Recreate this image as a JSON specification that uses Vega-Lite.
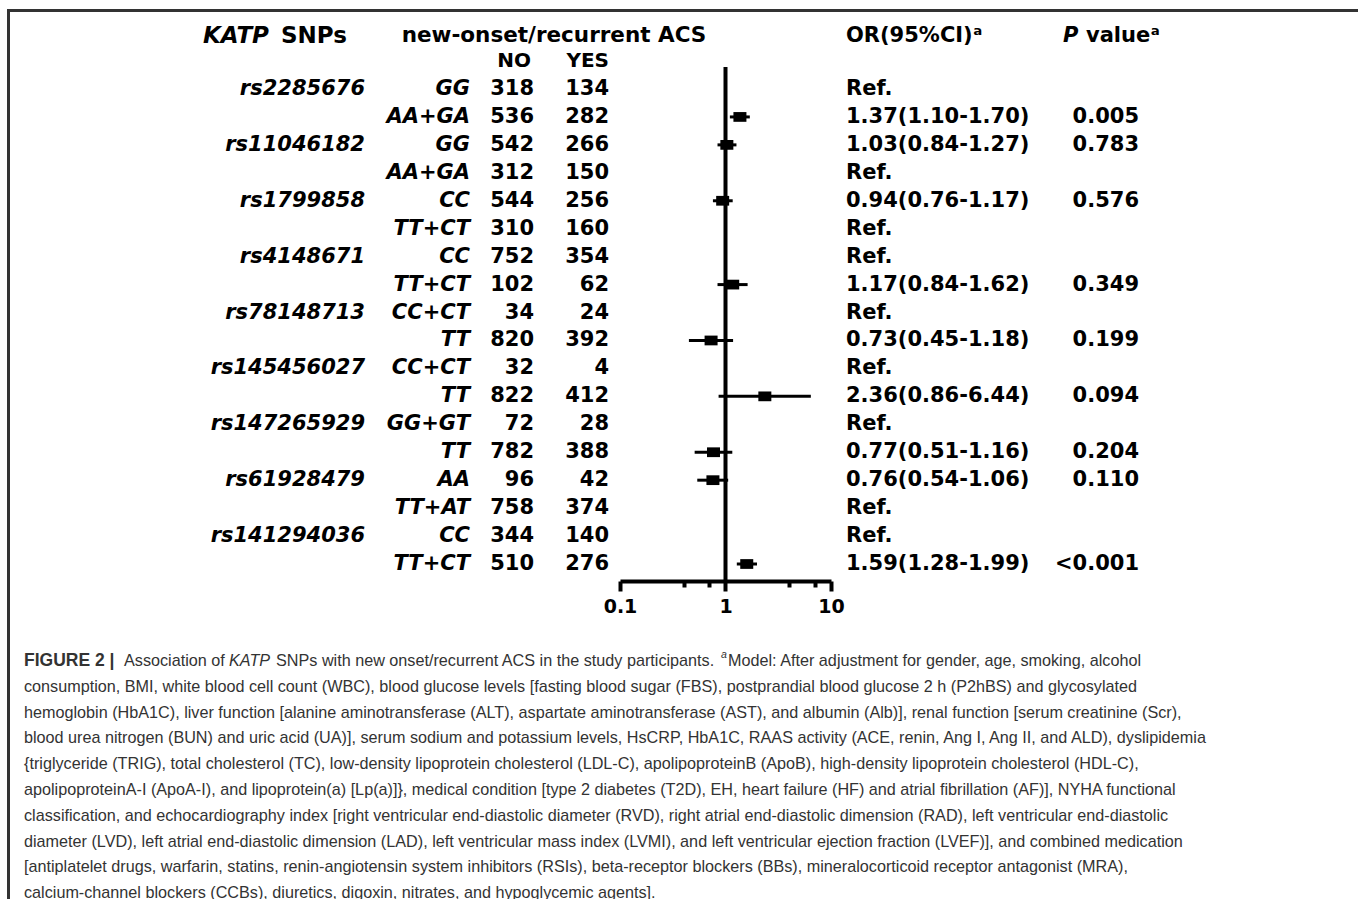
{
  "$schema": "https://vega.github.io/schema/vega-lite/v6.json",
  "padding": {"left": 7, "top": 9, "right": 0, "bottom": 0},
  "background": "white",
  "config": {"view": {"stroke": null}},
  "datasets": {
    "rows": [
      {"row": "r1", "snp": "rs2285676", "geno": "GG", "no": "318", "yes": "134", "ort": "Ref.", "p": ""},
      {"row": "r2", "snp": "", "geno": "AA+GA", "no": "536", "yes": "282", "ort": "1.37(1.10-1.70)", "p": "0.005", "or": 1.37, "lo": 1.10, "hi": 1.70},
      {"row": "r3", "snp": "rs11046182", "geno": "GG", "no": "542", "yes": "266", "ort": "1.03(0.84-1.27)", "p": "0.783", "or": 1.03, "lo": 0.84, "hi": 1.27},
      {"row": "r4", "snp": "", "geno": "AA+GA", "no": "312", "yes": "150", "ort": "Ref.", "p": ""},
      {"row": "r5", "snp": "rs1799858", "geno": "CC", "no": "544", "yes": "256", "ort": "0.94(0.76-1.17)", "p": "0.576", "or": 0.94, "lo": 0.76, "hi": 1.17},
      {"row": "r6", "snp": "", "geno": "TT+CT", "no": "310", "yes": "160", "ort": "Ref.", "p": ""},
      {"row": "r7", "snp": "rs4148671", "geno": "CC", "no": "752", "yes": "354", "ort": "Ref.", "p": ""},
      {"row": "r8", "snp": "", "geno": "TT+CT", "no": "102", "yes": "62", "ort": "1.17(0.84-1.62)", "p": "0.349", "or": 1.17, "lo": 0.84, "hi": 1.62},
      {"row": "r9", "snp": "rs78148713", "geno": "CC+CT", "no": "34", "yes": "24", "ort": "Ref.", "p": ""},
      {"row": "r10", "snp": "", "geno": "TT", "no": "820", "yes": "392", "ort": "0.73(0.45-1.18)", "p": "0.199", "or": 0.73, "lo": 0.45, "hi": 1.18},
      {"row": "r11", "snp": "rs145456027", "geno": "CC+CT", "no": "32", "yes": "4", "ort": "Ref.", "p": ""},
      {"row": "r12", "snp": "", "geno": "TT", "no": "822", "yes": "412", "ort": "2.36(0.86-6.44)", "p": "0.094", "or": 2.36, "lo": 0.86, "hi": 6.44},
      {"row": "r13", "snp": "rs147265929", "geno": "GG+GT", "no": "72", "yes": "28", "ort": "Ref.", "p": ""},
      {"row": "r14", "snp": "", "geno": "TT", "no": "782", "yes": "388", "ort": "0.77(0.51-1.16)", "p": "0.204", "or": 0.77, "lo": 0.51, "hi": 1.16},
      {"row": "r15", "snp": "rs61928479", "geno": "AA", "no": "96", "yes": "42", "ort": "0.76(0.54-1.06)", "p": "0.110", "or": 0.76, "lo": 0.54, "hi": 1.06},
      {"row": "r16", "snp": "", "geno": "TT+AT", "no": "758", "yes": "374", "ort": "Ref.", "p": ""},
      {"row": "r17", "snp": "rs141294036", "geno": "CC", "no": "344", "yes": "140", "ort": "Ref.", "p": ""},
      {"row": "r18", "snp": "", "geno": "TT+CT", "no": "510", "yes": "276", "ort": "1.59(1.28-1.99)", "p": "<0.001", "or": 1.59, "lo": 1.28, "hi": 1.99}
    ],
    "caption": [
      {"line": 1, "seg": "b", "text": "FIGURE 2 |"},
      {"line": 1, "seg": "n1", "text": "Association of"},
      {"line": 1, "seg": "i", "text": "KATP"},
      {"line": 1, "seg": "n2", "text": "SNPs with new onset/recurrent ACS in the study participants."},
      {"line": 1, "seg": "sup", "text": "a"},
      {"line": 1, "seg": "n3", "text": "Model: After adjustment for gender, age, smoking, alcohol"},
      {"line": 2, "seg": "n", "text": "consumption, BMI, white blood cell count (WBC), blood glucose levels [fasting blood sugar (FBS), postprandial blood glucose 2 h (P2hBS) and glycosylated"},
      {"line": 3, "seg": "n", "text": "hemoglobin (HbA1C), liver function [alanine aminotransferase (ALT), aspartate aminotransferase (AST), and albumin (Alb)], renal function [serum creatinine (Scr),"},
      {"line": 4, "seg": "n", "text": "blood urea nitrogen (BUN) and uric acid (UA)], serum sodium and potassium levels, HsCRP, HbA1C, RAAS activity (ACE, renin, Ang I, Ang II, and ALD), dyslipidemia"},
      {"line": 5, "seg": "n", "text": "{triglyceride (TRIG), total cholesterol (TC), low-density lipoprotein cholesterol (LDL-C), apolipoproteinB (ApoB), high-density lipoprotein cholesterol (HDL-C),"},
      {"line": 6, "seg": "n", "text": "apolipoproteinA-I (ApoA-I), and lipoprotein(a) [Lp(a)]}, medical condition [type 2 diabetes (T2D), EH, heart failure (HF) and atrial fibrillation (AF)], NYHA functional"},
      {"line": 7, "seg": "n", "text": "classification, and echocardiography index [right ventricular end-diastolic diameter (RVD), right atrial end-diastolic dimension (RAD), left ventricular end-diastolic"},
      {"line": 8, "seg": "n", "text": "diameter (LVD), left atrial end-diastolic dimension (LAD), left ventricular mass index (LVMI), and left ventricular ejection fraction (LVEF)], and combined medication"},
      {"line": 9, "seg": "n", "text": "[antiplatelet drugs, warfarin, statins, renin-angiotensin system inhibitors (RSIs), beta-receptor blockers (BBs), mineralocorticoid receptor antagonist (MRA),"},
      {"line": 10, "seg": "n", "text": "calcium-channel blockers (CCBs), diuretics, digoxin, nitrates, and hypoglycemic agents]."}
    ]
  },
  "spacing": 0,
  "hconcat": [
    {"width": 1, "height": 900, "data": {"values": []}, "mark": {"type": "text"}, "view": {"stroke": "#333333", "strokeWidth": 2}},
    {
      "spacing": 0,
      "vconcat": [
        {"width": 1346, "height": 1, "data": {"values": []}, "mark": {"type": "text"}, "view": {"stroke": "#333333", "strokeWidth": 2}},
        {
          "spacing": 0,
          "bounds": "flush",
          "hconcat": [
            {"width": 192, "height": 569, "data": {"values": []}, "mark": {"type": "text"}},
            {
              "width": 162, "height": 569,
              "layer": [
                {"data": {"name": "rows"},
                 "mark": {"type": "text", "align": "right", "baseline": "middle", "font": "DejaVu Sans", "fontSize": 21, "fontWeight": "bold", "fontStyle": "italic", "color": "black"},
                 "encoding": {
                   "x": {"datum": "R", "type": "nominal", "scale": {"type": "point", "domain": ["L", "R"], "padding": 0}, "axis": null},
                   "y": {"field": "row", "type": "nominal", "scale": {"type": "point", "domain": ["h1", "h2", "r1", "r2", "r3", "r4", "r5", "r6", "r7", "r8", "r9", "r10", "r11", "r12", "r13", "r14", "r15", "r16", "r17", "r18"], "padding": 0.682, "align": 0.554}, "axis": null},
                   "text": {"field": "snp"}}},
                {"data": {"values": [{}]},
                 "mark": {"type": "text", "text": "KATP", "align": "left", "baseline": "middle", "dy": 3, "font": "DejaVu Sans", "fontSize": 23, "fontWeight": "bold", "fontStyle": "italic", "color": "black"},
                 "encoding": {
                   "x": {"datum": "L", "type": "nominal", "axis": null},
                   "y": {"datum": "h1", "type": "nominal", "axis": null}}},
                {"data": {"values": [{}]},
                 "mark": {"type": "text", "text": "SNPs", "align": "left", "baseline": "middle", "dy": 3, "dx": 78, "font": "DejaVu Sans", "fontSize": 23, "fontWeight": "bold", "color": "black"},
                 "encoding": {
                   "x": {"datum": "L", "type": "nominal", "axis": null},
                   "y": {"datum": "h1", "type": "nominal", "axis": null}}}
              ]
            },
            {
              "width": 105, "height": 569,
              "data": {"name": "rows"},
              "mark": {"type": "text", "align": "right", "baseline": "middle", "font": "DejaVu Sans", "fontSize": 21, "fontWeight": "bold", "fontStyle": "italic", "color": "black"},
              "encoding": {
                "x": {"datum": "R", "type": "nominal", "scale": {"type": "point", "domain": ["L", "R"], "padding": 0}, "axis": null},
                "y": {"field": "row", "type": "nominal", "scale": {"type": "point", "domain": ["h1", "h2", "r1", "r2", "r3", "r4", "r5", "r6", "r7", "r8", "r9", "r10", "r11", "r12", "r13", "r14", "r15", "r16", "r17", "r18"], "padding": 0.682, "align": 0.554}, "axis": null},
                "text": {"field": "geno"}}
            },
            {
              "width": 64, "height": 569,
              "layer": [
                {"data": {"name": "rows"},
                 "mark": {"type": "text", "align": "right", "baseline": "middle", "font": "DejaVu Sans", "fontSize": 21, "fontWeight": "bold", "color": "black"},
                 "encoding": {
                   "x": {"datum": "R", "type": "nominal", "scale": {"type": "point", "domain": ["L", "R"], "padding": 0}, "axis": null},
                   "y": {"field": "row", "type": "nominal", "scale": {"type": "point", "domain": ["h1", "h2", "r1", "r2", "r3", "r4", "r5", "r6", "r7", "r8", "r9", "r10", "r11", "r12", "r13", "r14", "r15", "r16", "r17", "r18"], "padding": 0.682, "align": 0.554}, "axis": null},
                   "text": {"field": "no"}}},
                {"data": {"values": [{}]},
                 "mark": {"type": "text", "text": "NO", "align": "right", "baseline": "middle", "dx": -3, "font": "DejaVu Sans", "fontSize": 20, "fontWeight": "bold", "color": "black"},
                 "encoding": {
                   "x": {"datum": "R", "type": "nominal", "axis": null},
                   "y": {"datum": "h2", "type": "nominal", "axis": null}}}
              ]
            },
            {
              "width": 75, "height": 569,
              "layer": [
                {"data": {"name": "rows"},
                 "mark": {"type": "text", "align": "right", "baseline": "middle", "font": "DejaVu Sans", "fontSize": 21, "fontWeight": "bold", "color": "black"},
                 "encoding": {
                   "x": {"datum": "R", "type": "nominal", "scale": {"type": "point", "domain": ["L", "R"], "padding": 0}, "axis": null},
                   "y": {"field": "row", "type": "nominal", "scale": {"type": "point", "domain": ["h1", "h2", "r1", "r2", "r3", "r4", "r5", "r6", "r7", "r8", "r9", "r10", "r11", "r12", "r13", "r14", "r15", "r16", "r17", "r18"], "padding": 0.682, "align": 0.554}, "axis": null},
                   "text": {"field": "yes"}}},
                {"data": {"values": [{}]},
                 "mark": {"type": "text", "text": "YES", "align": "right", "baseline": "middle", "font": "DejaVu Sans", "fontSize": 20, "fontWeight": "bold", "color": "black"},
                 "encoding": {
                   "x": {"datum": "R", "type": "nominal", "axis": null},
                   "y": {"datum": "h2", "type": "nominal", "axis": null}}},
                {"data": {"values": [{}]},
                 "mark": {"type": "text", "text": "new-onset/recurrent ACS", "align": "center", "baseline": "middle", "dx": 20, "dy": 3, "font": "DejaVu Sans", "fontSize": 21.5, "fontWeight": "bold", "color": "black"},
                 "encoding": {
                   "x": {"datum": "L", "type": "nominal", "axis": null},
                   "y": {"datum": "h1", "type": "nominal", "axis": null}}}
              ]
            },
            {"width": 11, "height": 569, "data": {"values": []}, "mark": {"type": "text"}},
            {
              "width": 211, "height": 569,
              "layer": [
                {"data": {"values": [{}]},
                 "mark": {"type": "rule", "color": "black", "strokeWidth": 4, "yOffset": 6},
                 "encoding": {
                   "x": {"datum": 1, "type": "quantitative", "scale": {"type": "log", "domain": [0.1, 10], "nice": false},
                         "axis": {"title": null, "values": [0.1, 0.4, 0.7, 1, 4, 7, 10], "grid": false, "domain": true, "domainColor": "black", "domainWidth": 4, "ticks": true, "tickColor": "black", "tickWidth": 4,
                                  "tickSize": {"condition": {"test": "datum.value == 0.1 || datum.value == 1 || datum.value == 10", "value": 10}, "value": 6},
                                  "labelExpr": "datum.value == 0.1 ? '0.1' : datum.value == 1 ? '1' : datum.value == 10 ? '10' : ''",
                                  "labelFont": "DejaVu Sans", "labelFontWeight": "bold", "labelFontSize": 19, "labelColor": "black", "labelPadding": 6, "labelFlush": false, "labelOverlap": false, "labelBound": false}},
                   "y": {"datum": "h2", "type": "nominal", "scale": {"type": "point", "domain": ["h1", "h2", "r1", "r2", "r3", "r4", "r5", "r6", "r7", "r8", "r9", "r10", "r11", "r12", "r13", "r14", "r15", "r16", "r17", "r18"], "padding": 0.682, "align": 0.554}, "axis": null},
                   "y2": {"value": "height"}}},
                {"data": {"name": "rows"},
                 "transform": [{"filter": "isValid(datum.or)"}],
                 "mark": {"type": "rule", "color": "black", "strokeWidth": 3},
                 "encoding": {
                   "x": {"field": "lo", "type": "quantitative"},
                   "x2": {"field": "hi"},
                   "y": {"field": "row", "type": "nominal", "axis": null}}},
                {"data": {"name": "rows"},
                 "transform": [{"filter": "isValid(datum.or)"}],
                 "mark": {"type": "point", "shape": "M-1,-0.75L1,-0.75L1,0.75L-1,0.75Z", "size": 169, "filled": true, "color": "black", "opacity": 1},
                 "encoding": {
                   "x": {"field": "or", "type": "quantitative"},
                   "y": {"field": "row", "type": "nominal", "axis": null}}}
              ]
            },
            {"width": 15, "height": 569, "data": {"values": []}, "mark": {"type": "text"}},
            {
              "width": 293, "height": 569,
              "layer": [
                {"data": {"name": "rows"},
                 "mark": {"type": "text", "align": "left", "baseline": "middle", "font": "DejaVu Sans", "fontSize": 21, "fontWeight": "bold", "color": "black"},
                 "encoding": {
                   "x": {"datum": "L", "type": "nominal", "scale": {"type": "point", "domain": ["L", "R"], "padding": 0}, "axis": null},
                   "y": {"field": "row", "type": "nominal", "scale": {"type": "point", "domain": ["h1", "h2", "r1", "r2", "r3", "r4", "r5", "r6", "r7", "r8", "r9", "r10", "r11", "r12", "r13", "r14", "r15", "r16", "r17", "r18"], "padding": 0.682, "align": 0.554}, "axis": null},
                   "text": {"field": "ort"}}},
                {"data": {"name": "rows"},
                 "mark": {"type": "text", "align": "right", "baseline": "middle", "font": "DejaVu Sans", "fontSize": 21, "fontWeight": "bold", "color": "black"},
                 "encoding": {
                   "x": {"datum": "R", "type": "nominal", "axis": null},
                   "y": {"field": "row", "type": "nominal", "axis": null},
                   "text": {"field": "p"}}},
                {"data": {"values": [{}]},
                 "mark": {"type": "text", "text": "OR(95%CI)ᵃ", "align": "left", "baseline": "middle", "dy": 3, "font": "DejaVu Sans", "fontSize": 21, "fontWeight": "bold", "color": "black"},
                 "encoding": {
                   "x": {"datum": "L", "type": "nominal", "axis": null},
                   "y": {"datum": "h1", "type": "nominal", "axis": null}}},
                {"data": {"values": [{}]},
                 "mark": {"type": "text", "text": "P", "align": "left", "baseline": "middle", "dy": 3, "dx": -76, "font": "DejaVu Sans", "fontSize": 21, "fontWeight": "bold", "fontStyle": "italic", "color": "black"},
                 "encoding": {
                   "x": {"datum": "R", "type": "nominal", "axis": null},
                   "y": {"datum": "h1", "type": "nominal", "axis": null}}},
                {"data": {"values": [{}]},
                 "mark": {"type": "text", "text": "valueᵃ", "align": "left", "baseline": "middle", "dy": 3, "dx": -53, "font": "DejaVu Sans", "fontSize": 21, "fontWeight": "bold", "color": "black"},
                 "encoding": {
                   "x": {"datum": "R", "type": "nominal", "axis": null},
                   "y": {"datum": "h1", "type": "nominal", "axis": null}}}
              ]
            }
          ]
        },
        {"width": 1346, "height": 32, "data": {"values": []}, "mark": {"type": "text"}},
        {
          "width": 1346, "height": 258,
          "data": {"name": "caption"},
          "encoding": {
            "x": {"datum": "L", "type": "nominal", "scale": {"type": "point", "domain": ["L", "R"], "padding": 0}, "axis": null},
            "y": {"field": "line", "type": "ordinal", "scale": {"type": "point", "domain": [1, 2, 3, 4, 5, 6, 7, 8, 9, 10], "padding": 0.5}, "axis": null},
            "text": {"field": "text"}
          },
          "layer": [
            {"transform": [{"filter": "datum.seg == 'n'"}],
             "mark": {"type": "text", "align": "left", "baseline": "middle", "dx": 13, "font": "Liberation Sans", "fontSize": 16.2, "color": "#333333"}},
            {"transform": [{"filter": "datum.seg == 'b'"}],
             "mark": {"type": "text", "align": "left", "baseline": "middle", "dx": 13, "font": "Liberation Sans", "fontSize": 17.5, "fontWeight": "bold", "color": "#333333"}},
            {"transform": [{"filter": "datum.seg == 'n1'"}],
             "mark": {"type": "text", "align": "left", "baseline": "middle", "dx": 113, "font": "Liberation Sans", "fontSize": 16.2, "color": "#333333"}},
            {"transform": [{"filter": "datum.seg == 'i'"}],
             "mark": {"type": "text", "align": "left", "baseline": "middle", "dx": 218, "font": "Liberation Sans", "fontSize": 16.2, "fontStyle": "italic", "color": "#333333"}},
            {"transform": [{"filter": "datum.seg == 'n2'"}],
             "mark": {"type": "text", "align": "left", "baseline": "middle", "dx": 265, "font": "Liberation Sans", "fontSize": 16.2, "color": "#333333"}},
            {"transform": [{"filter": "datum.seg == 'sup'"}],
             "mark": {"type": "text", "align": "left", "baseline": "middle", "dx": 710, "dy": -6, "font": "Liberation Sans", "fontSize": 10.5, "fontStyle": "italic", "color": "#333333"}},
            {"transform": [{"filter": "datum.seg == 'n3'"}],
             "mark": {"type": "text", "align": "left", "baseline": "middle", "dx": 717, "font": "Liberation Sans", "fontSize": 16.2, "color": "#333333"}}
          ]
        }
      ]
    },
    {"width": 1, "height": 900, "data": {"values": []}, "mark": {"type": "text"}, "view": {"stroke": "#333333", "strokeWidth": 2}}
  ]
}
